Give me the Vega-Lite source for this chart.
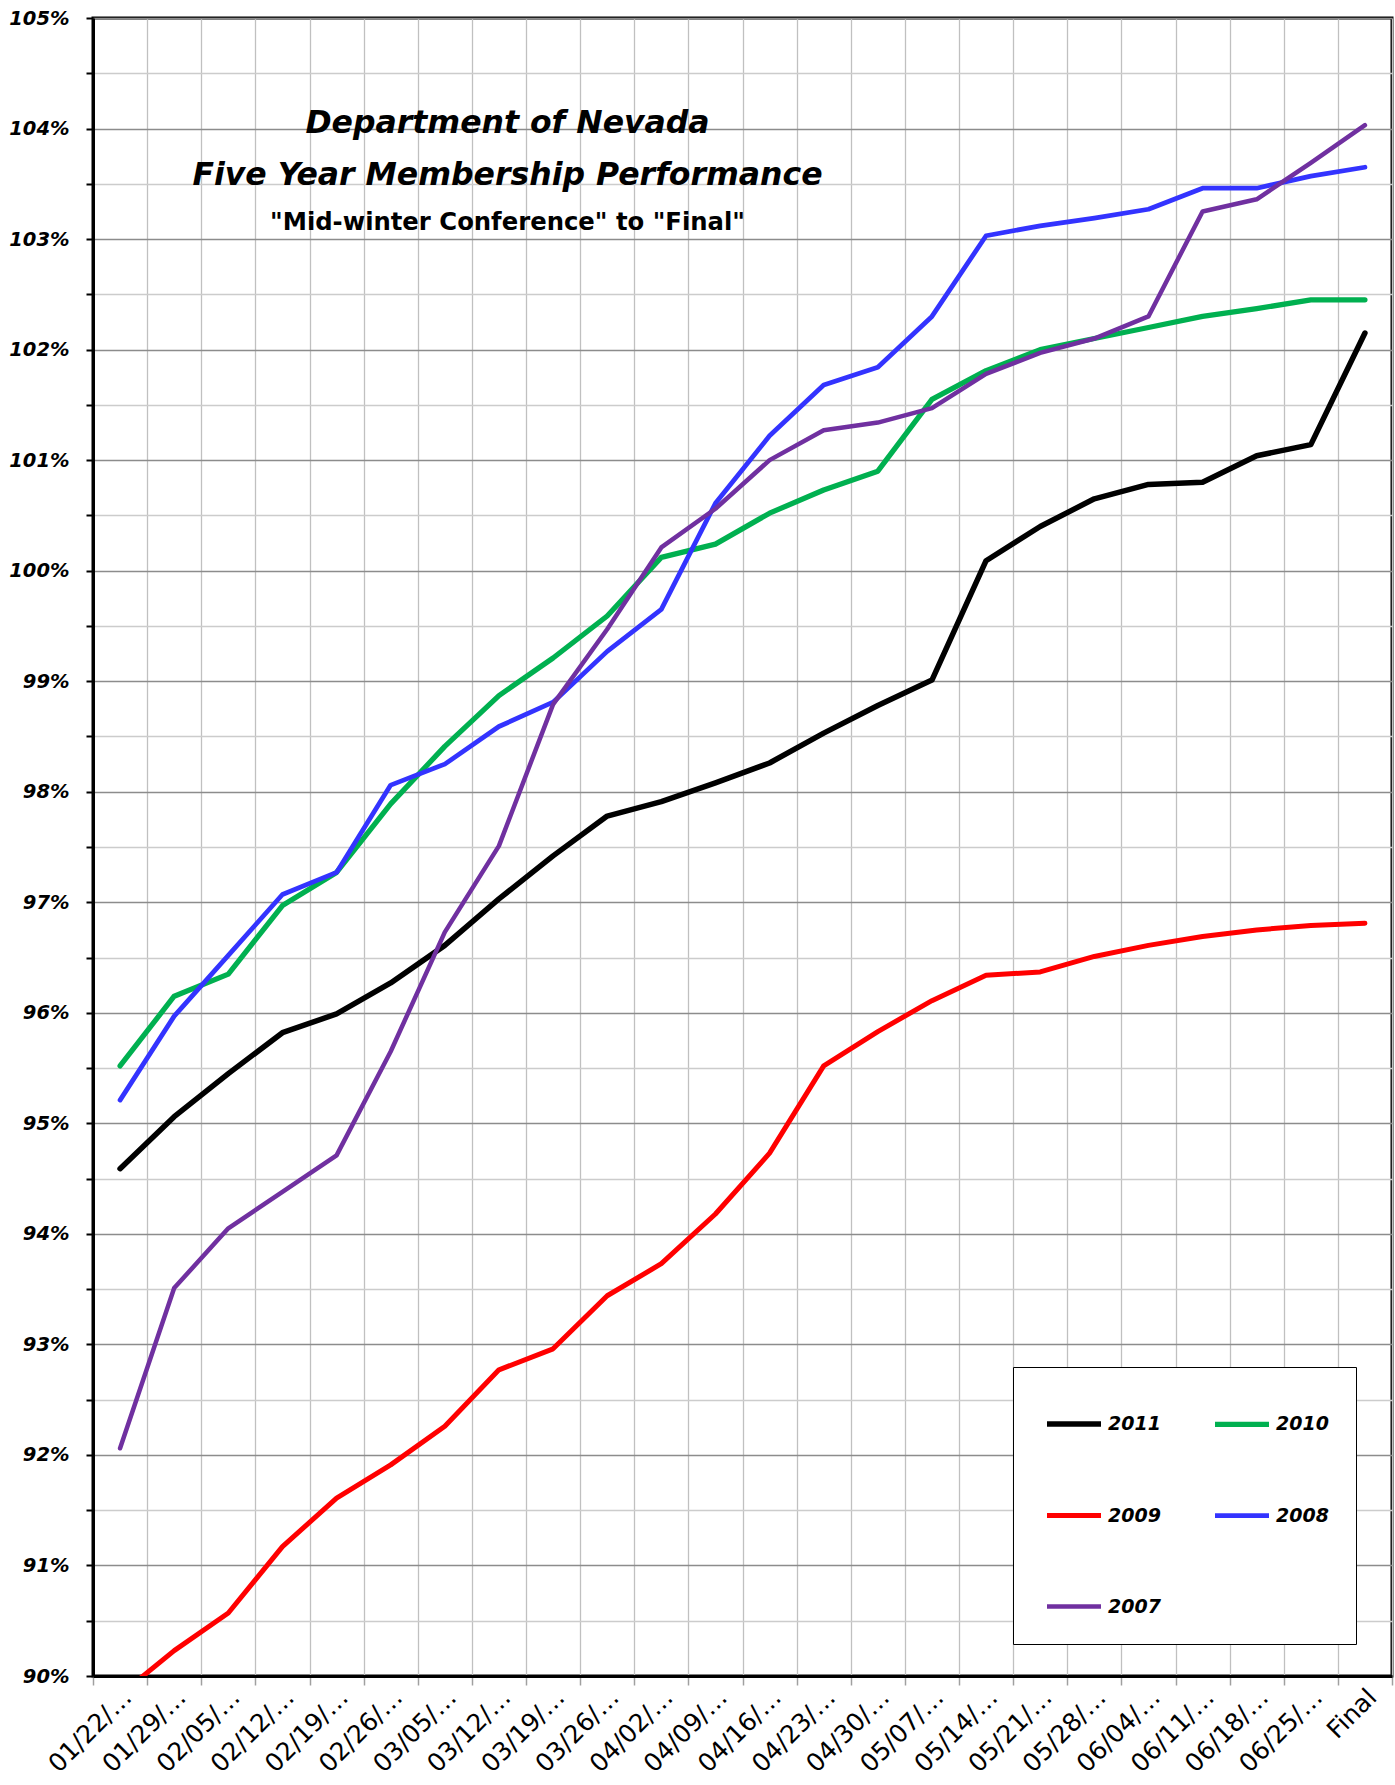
{
  "$schema": "https://vega.github.io/schema/vega-lite/v6.json",
  "width": 1299,
  "height": 1658,
  "autosize": {"type": "none"},
  "padding": {"left": 93, "top": 18, "right": 3, "bottom": 109},
  "background": "white",
  "config": {"view": {"stroke": "#000000", "strokeWidth": 3}},
  "title": {
    "text": ["Department of Nevada", "Five Year Membership Performance"],
    "subtitle": "\"Mid-winter Conference\" to \"Final\"",
    "anchor": "middle",
    "frame": "group",
    "orient": "top",
    "offset": -227,
    "dx": -235,
    "font": "DejaVu Sans",
    "fontSize": 31.5,
    "fontStyle": "italic",
    "fontWeight": "bold",
    "lineHeight": 52,
    "color": "#000000",
    "subtitleFont": "DejaVu Sans",
    "subtitleFontSize": 24.3,
    "subtitleFontWeight": "bold",
    "subtitleFontStyle": "normal",
    "subtitleColor": "#000000",
    "subtitlePadding": 19
  },
  "data": {
    "values": [
      {"year": "2011", "week": "01/22/…", "pct": 94.59},
      {"year": "2011", "week": "01/29/…", "pct": 95.06},
      {"year": "2011", "week": "02/05/…", "pct": 95.45},
      {"year": "2011", "week": "02/12/…", "pct": 95.82},
      {"year": "2011", "week": "02/19/…", "pct": 95.99},
      {"year": "2011", "week": "02/26/…", "pct": 96.27},
      {"year": "2011", "week": "03/05/…", "pct": 96.61},
      {"year": "2011", "week": "03/12/…", "pct": 97.03},
      {"year": "2011", "week": "03/19/…", "pct": 97.42},
      {"year": "2011", "week": "03/26/…", "pct": 97.78},
      {"year": "2011", "week": "04/02/…", "pct": 97.91},
      {"year": "2011", "week": "04/09/…", "pct": 98.08},
      {"year": "2011", "week": "04/16/…", "pct": 98.26},
      {"year": "2011", "week": "04/23/…", "pct": 98.53},
      {"year": "2011", "week": "04/30/…", "pct": 98.78},
      {"year": "2011", "week": "05/07/…", "pct": 99.01},
      {"year": "2011", "week": "05/14/…", "pct": 100.09},
      {"year": "2011", "week": "05/21/…", "pct": 100.40},
      {"year": "2011", "week": "05/28/…", "pct": 100.65},
      {"year": "2011", "week": "06/04/…", "pct": 100.78},
      {"year": "2011", "week": "06/11/…", "pct": 100.80},
      {"year": "2011", "week": "06/18/…", "pct": 101.04},
      {"year": "2011", "week": "06/25/…", "pct": 101.14},
      {"year": "2011", "week": "Final", "pct": 102.15},
      {"year": "2010", "week": "01/22/…", "pct": 95.52},
      {"year": "2010", "week": "01/29/…", "pct": 96.15},
      {"year": "2010", "week": "02/05/…", "pct": 96.35},
      {"year": "2010", "week": "02/12/…", "pct": 96.97},
      {"year": "2010", "week": "02/19/…", "pct": 97.27},
      {"year": "2010", "week": "02/26/…", "pct": 97.89},
      {"year": "2010", "week": "03/05/…", "pct": 98.41},
      {"year": "2010", "week": "03/12/…", "pct": 98.87},
      {"year": "2010", "week": "03/19/…", "pct": 99.21},
      {"year": "2010", "week": "03/26/…", "pct": 99.59},
      {"year": "2010", "week": "04/02/…", "pct": 100.12},
      {"year": "2010", "week": "04/09/…", "pct": 100.24},
      {"year": "2010", "week": "04/16/…", "pct": 100.52},
      {"year": "2010", "week": "04/23/…", "pct": 100.73},
      {"year": "2010", "week": "04/30/…", "pct": 100.90},
      {"year": "2010", "week": "05/07/…", "pct": 101.55},
      {"year": "2010", "week": "05/14/…", "pct": 101.81},
      {"year": "2010", "week": "05/21/…", "pct": 102.00},
      {"year": "2010", "week": "05/28/…", "pct": 102.10},
      {"year": "2010", "week": "06/04/…", "pct": 102.20},
      {"year": "2010", "week": "06/11/…", "pct": 102.30},
      {"year": "2010", "week": "06/18/…", "pct": 102.37},
      {"year": "2010", "week": "06/25/…", "pct": 102.45},
      {"year": "2010", "week": "Final", "pct": 102.45},
      {"year": "2009", "week": "01/22/…", "pct": 89.83},
      {"year": "2009", "week": "01/29/…", "pct": 90.23},
      {"year": "2009", "week": "02/05/…", "pct": 90.57},
      {"year": "2009", "week": "02/12/…", "pct": 91.17},
      {"year": "2009", "week": "02/19/…", "pct": 91.61},
      {"year": "2009", "week": "02/26/…", "pct": 91.91},
      {"year": "2009", "week": "03/05/…", "pct": 92.26},
      {"year": "2009", "week": "03/12/…", "pct": 92.77},
      {"year": "2009", "week": "03/19/…", "pct": 92.96},
      {"year": "2009", "week": "03/26/…", "pct": 93.44},
      {"year": "2009", "week": "04/02/…", "pct": 93.73},
      {"year": "2009", "week": "04/09/…", "pct": 94.18},
      {"year": "2009", "week": "04/16/…", "pct": 94.73},
      {"year": "2009", "week": "04/23/…", "pct": 95.52},
      {"year": "2009", "week": "04/30/…", "pct": 95.83},
      {"year": "2009", "week": "05/07/…", "pct": 96.11},
      {"year": "2009", "week": "05/14/…", "pct": 96.34},
      {"year": "2009", "week": "05/21/…", "pct": 96.37},
      {"year": "2009", "week": "05/28/…", "pct": 96.51},
      {"year": "2009", "week": "06/04/…", "pct": 96.61},
      {"year": "2009", "week": "06/11/…", "pct": 96.69},
      {"year": "2009", "week": "06/18/…", "pct": 96.75},
      {"year": "2009", "week": "06/25/…", "pct": 96.79},
      {"year": "2009", "week": "Final", "pct": 96.81},
      {"year": "2008", "week": "01/22/…", "pct": 95.21},
      {"year": "2008", "week": "01/29/…", "pct": 95.97},
      {"year": "2008", "week": "02/05/…", "pct": 96.52},
      {"year": "2008", "week": "02/12/…", "pct": 97.07},
      {"year": "2008", "week": "02/19/…", "pct": 97.27},
      {"year": "2008", "week": "02/26/…", "pct": 98.06},
      {"year": "2008", "week": "03/05/…", "pct": 98.25},
      {"year": "2008", "week": "03/12/…", "pct": 98.59},
      {"year": "2008", "week": "03/19/…", "pct": 98.81},
      {"year": "2008", "week": "03/26/…", "pct": 99.27},
      {"year": "2008", "week": "04/02/…", "pct": 99.65},
      {"year": "2008", "week": "04/09/…", "pct": 100.61},
      {"year": "2008", "week": "04/16/…", "pct": 101.22},
      {"year": "2008", "week": "04/23/…", "pct": 101.68},
      {"year": "2008", "week": "04/30/…", "pct": 101.84},
      {"year": "2008", "week": "05/07/…", "pct": 102.30},
      {"year": "2008", "week": "05/14/…", "pct": 103.03},
      {"year": "2008", "week": "05/21/…", "pct": 103.12},
      {"year": "2008", "week": "05/28/…", "pct": 103.19},
      {"year": "2008", "week": "06/04/…", "pct": 103.27},
      {"year": "2008", "week": "06/11/…", "pct": 103.46},
      {"year": "2008", "week": "06/18/…", "pct": 103.46},
      {"year": "2008", "week": "06/25/…", "pct": 103.57},
      {"year": "2008", "week": "Final", "pct": 103.65},
      {"year": "2007", "week": "01/22/…", "pct": 92.06},
      {"year": "2007", "week": "01/29/…", "pct": 93.51},
      {"year": "2007", "week": "02/05/…", "pct": 94.05},
      {"year": "2007", "week": "02/12/…", "pct": 94.38},
      {"year": "2007", "week": "02/19/…", "pct": 94.71},
      {"year": "2007", "week": "02/26/…", "pct": 95.65},
      {"year": "2007", "week": "03/05/…", "pct": 96.73},
      {"year": "2007", "week": "03/12/…", "pct": 97.51},
      {"year": "2007", "week": "03/19/…", "pct": 98.79},
      {"year": "2007", "week": "03/26/…", "pct": 99.47},
      {"year": "2007", "week": "04/02/…", "pct": 100.21},
      {"year": "2007", "week": "04/09/…", "pct": 100.56},
      {"year": "2007", "week": "04/16/…", "pct": 101.00},
      {"year": "2007", "week": "04/23/…", "pct": 101.27},
      {"year": "2007", "week": "04/30/…", "pct": 101.34},
      {"year": "2007", "week": "05/07/…", "pct": 101.47},
      {"year": "2007", "week": "05/14/…", "pct": 101.78},
      {"year": "2007", "week": "05/21/…", "pct": 101.97},
      {"year": "2007", "week": "05/28/…", "pct": 102.10},
      {"year": "2007", "week": "06/04/…", "pct": 102.30},
      {"year": "2007", "week": "06/11/…", "pct": 103.25},
      {"year": "2007", "week": "06/18/…", "pct": 103.36},
      {"year": "2007", "week": "06/25/…", "pct": 103.69},
      {"year": "2007", "week": "Final", "pct": 104.03}
    ]
  },
  "mark": {"type": "line", "clip": true, "strokeCap": "round", "strokeJoin": "round"},
  "encoding": {
    "x": {
      "field": "week",
      "type": "ordinal",
      "sort": null,
      "bandPosition": 0.5,
      "scale": {"type": "band", "paddingInner": 0, "paddingOuter": 0},
      "axis": {
        "title": null,
        "tickBand": "extent",
        "grid": true,
        "gridColor": "#c0c0c0",
        "gridWidth": 1.3,
        "labelAngle": -45,
        "labelAlign": "right",
        "labelBaseline": "middle",
        "labelFont": "DejaVu Sans",
        "labelFontSize": 25,
        "labelColor": "#000000",
        "labelOffset": 7,
        "labelPadding": 8,
        "labelOverlap": false,
        "labelBound": false,
        "tickColor": "#a0a0a0",
        "tickSize": 9,
        "tickWidth": 1.5,
        "domainColor": "#000000",
        "domainWidth": 3
      }
    },
    "y": {
      "field": "pct",
      "type": "quantitative",
      "scale": {"domain": [90, 105], "nice": false, "zero": false},
      "axis": {
        "title": null,
        "values": [90, 90.5, 91, 91.5, 92, 92.5, 93, 93.5, 94, 94.5, 95, 95.5, 96, 96.5, 97, 97.5, 98, 98.5, 99, 99.5, 100, 100.5, 101, 101.5, 102, 102.5, 103, 103.5, 104, 104.5, 105],
        "labelExpr": "datum.value % 1 === 0 ? datum.value + '%' : ''",
        "labelFont": "DejaVu Sans",
        "labelFontSize": 19.5,
        "labelFontWeight": "bold",
        "labelFontStyle": "italic",
        "labelColor": "#000000",
        "labelPadding": 17,
        "labelOverlap": false,
        "tickColor": "#000000",
        "tickSize": 7,
        "tickWidth": 2,
        "domainColor": "#000000",
        "domainWidth": 3,
        "gridColor": {"condition": {"test": "datum.value % 1 === 0", "value": "#8c8c8c"}, "value": "#cccccc"},
        "gridWidth": 1.5
      }
    },
    "color": {
      "field": "year",
      "type": "nominal",
      "scale": {
        "domain": ["2011", "2010", "2009", "2008", "2007"],
        "range": ["#000000", "#00B050", "#FF0000", "#3333FF", "#7030A0"]
      },
      "legend": {
        "title": null,
        "orient": "none",
        "legendX": 920,
        "legendY": 1349,
        "direction": "horizontal",
        "columns": 2,
        "symbolType": "stroke",
        "symbolSize": 2916,
        "symbolStrokeWidth": 4.5,
        "symbolOffset": 4,
        "labelFont": "DejaVu Sans",
        "labelFontSize": 19,
        "labelFontWeight": "bold",
        "labelFontStyle": "italic",
        "labelColor": "#000000",
        "labelOffset": 4,
        "rowPadding": 51,
        "columnPadding": 43,
        "padding": 27,
        "fillColor": "#ffffff",
        "strokeColor": "#000000"
      }
    },
    "strokeWidth": {
      "field": "year",
      "type": "nominal",
      "scale": {"domain": ["2011", "2010", "2009", "2008", "2007"], "range": [5.5, 4.5, 4.5, 5, 3]},
      "legend": null
    }
  }
}
